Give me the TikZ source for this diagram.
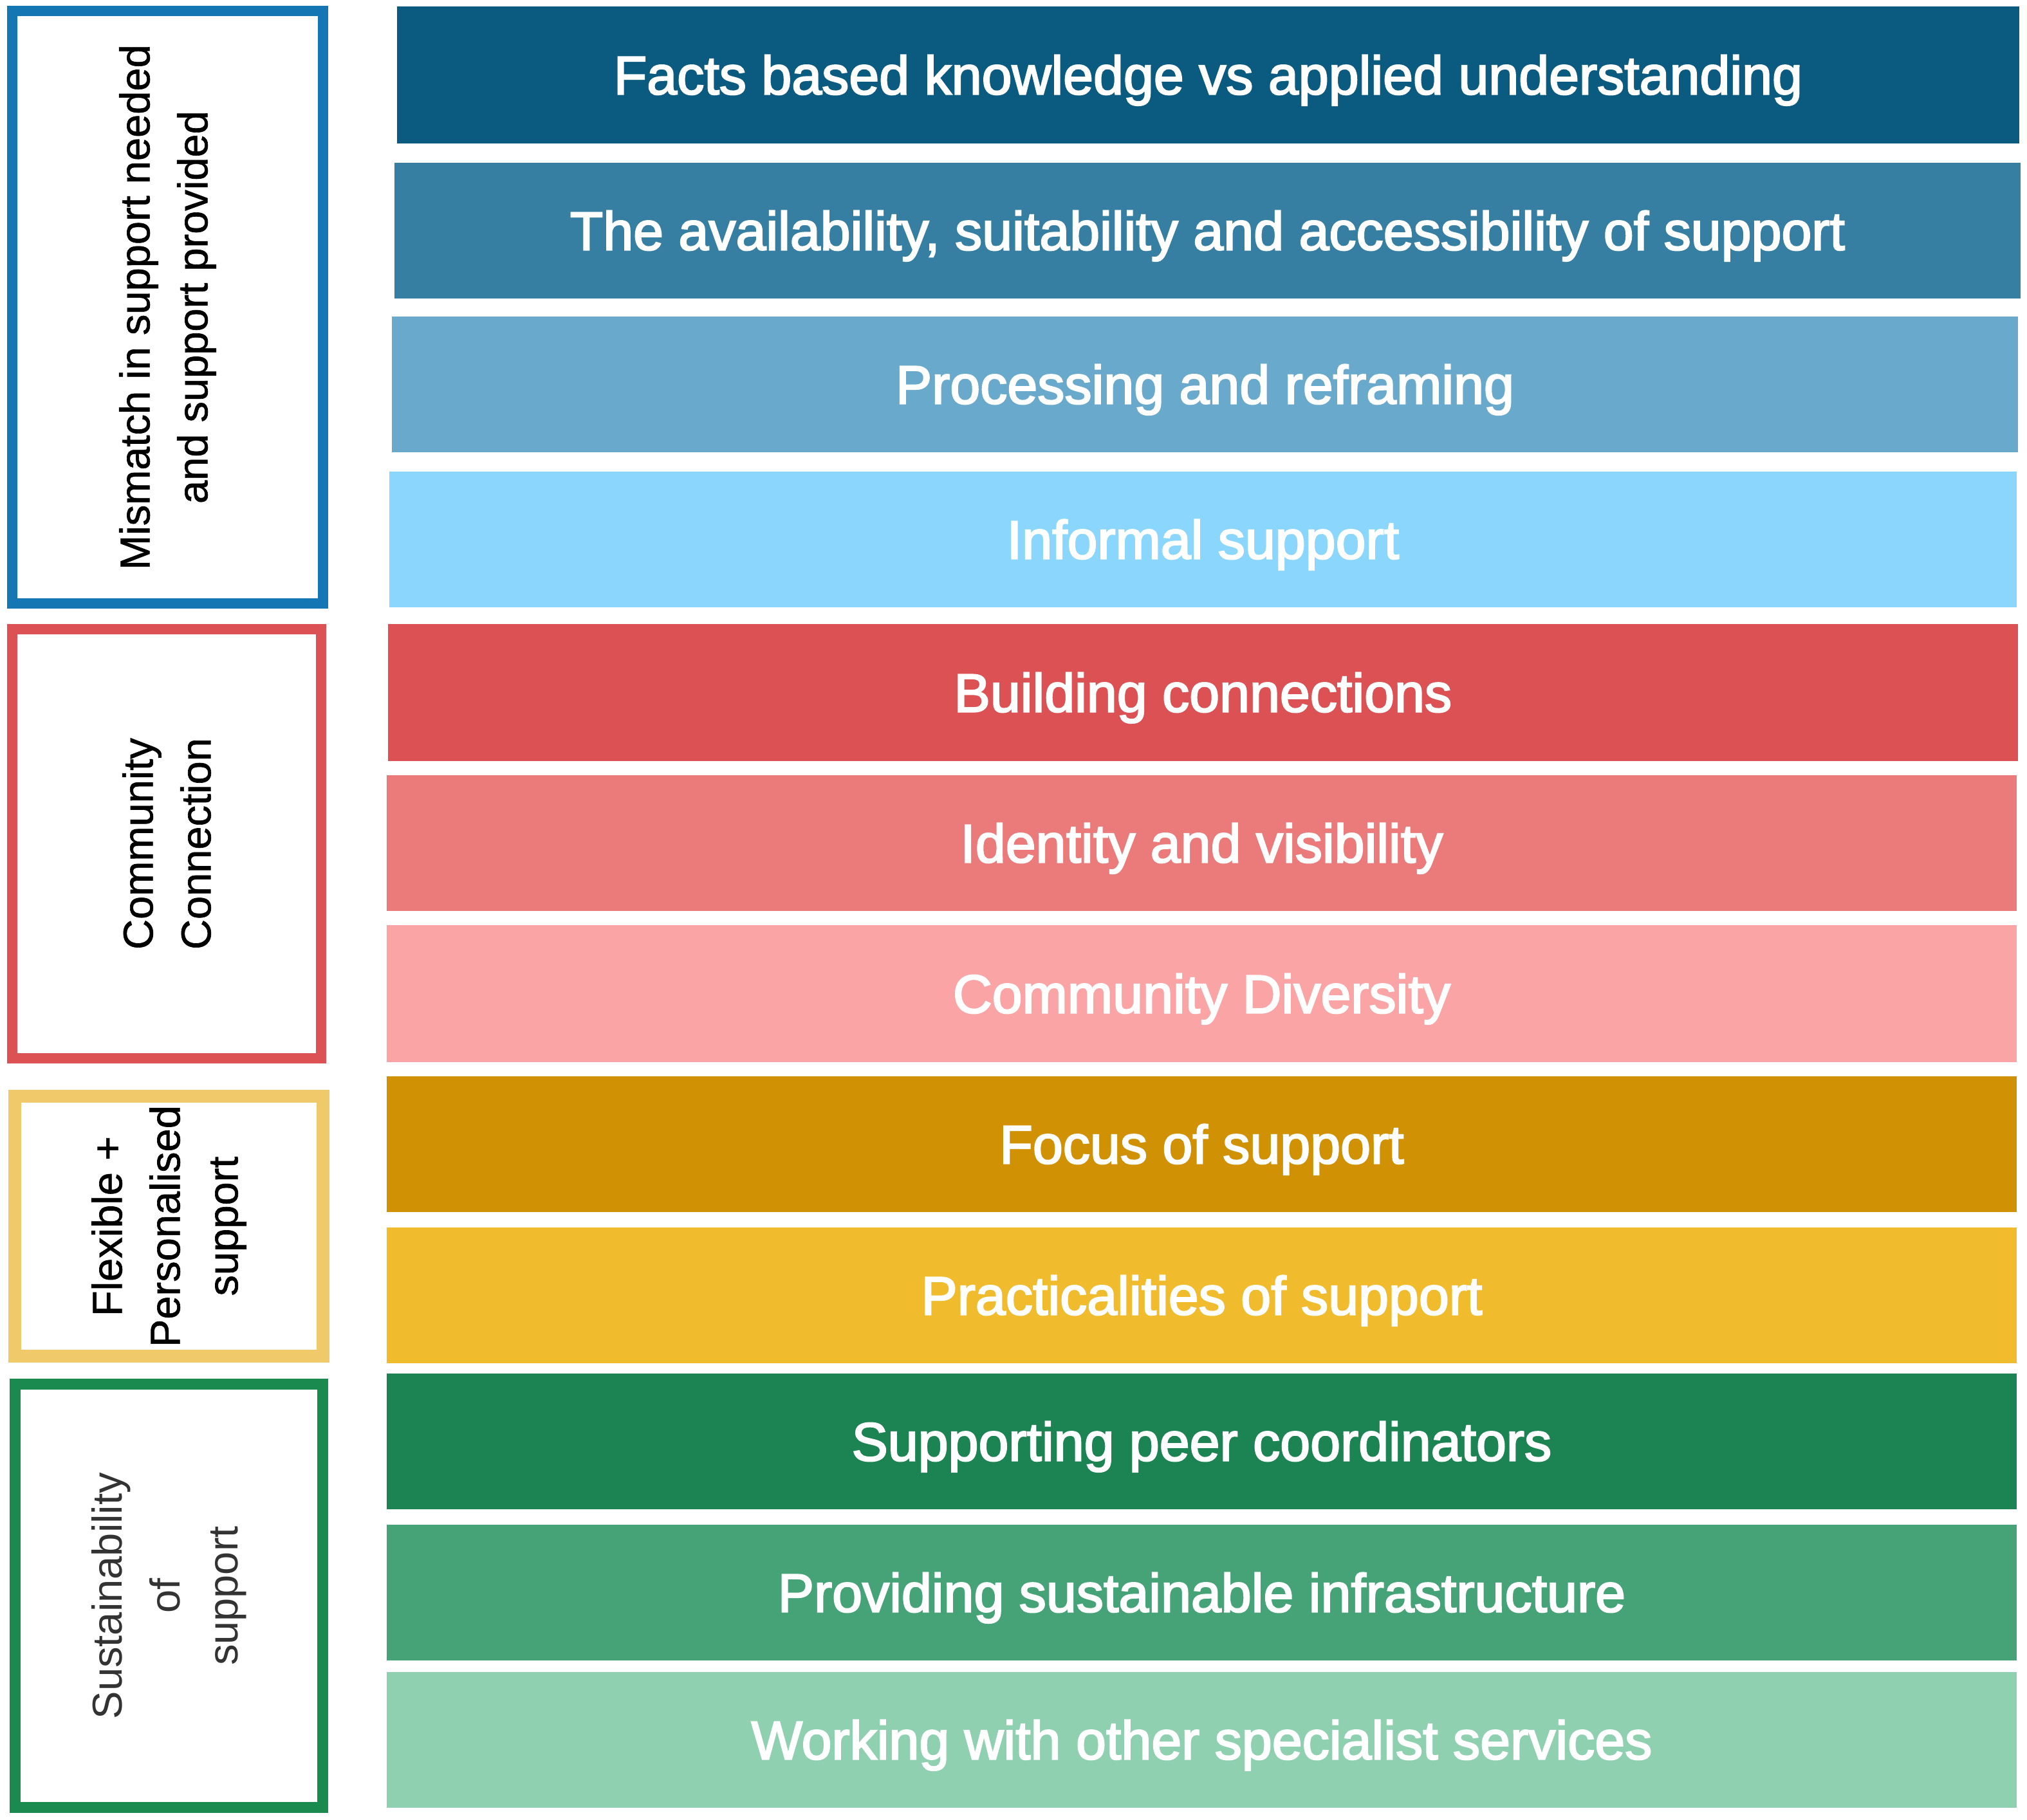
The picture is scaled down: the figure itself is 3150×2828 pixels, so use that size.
\documentclass[tikz,border=0pt]{standalone}
\usepackage{fontspec}
\setmainfont{Liberation Sans}
\newfontfamily\barfont[FakeBold=2.6]{Liberation Sans}
\newfontfamily\sidefont[FakeBold=1]{Liberation Sans}
\newfontfamily\sidefontlight{Liberation Sans}
\definecolor{cA}{HTML}{0B5A80}
\definecolor{cB}{HTML}{367FA2}
\definecolor{cC}{HTML}{69A9CC}
\definecolor{cD}{HTML}{8AD6FC}
\definecolor{cE}{HTML}{DB5154}
\definecolor{cF}{HTML}{EB7B7B}
\definecolor{cG}{HTML}{FAA4A6}
\definecolor{cH}{HTML}{D09204}
\definecolor{cI}{HTML}{F0BB2C}
\definecolor{cJ}{HTML}{1C8352}
\definecolor{cK}{HTML}{45A377}
\definecolor{cL}{HTML}{8FD0B1}
\definecolor{bBlue}{HTML}{1477B3}
\definecolor{bRed}{HTML}{DB5154}
\definecolor{bYel}{HTML}{EFC96A}
\definecolor{bGrn}{HTML}{1A8A4F}
\tikzset{
  themebar/.style={inner sep=0pt, outer sep=0pt, draw=none, text=white,
    font=\barfont\fontsize{24pt}{28pt}\selectfont, text height=6mm, text depth=0mm},
  sidebox/.style={rotate=90, inner sep=0pt, outer sep=0pt, fill=white, align=center,
    font=\sidefont\fontsize{18.5pt}{25.6pt}\selectfont, text=black}
}
% name, left, top, right, bottom, colour, text
\newcommand\themebarnode[7]{%
  \node[themebar, fill=#6, minimum width={(#4-#2)*0.1mm}, minimum height={(#5-#3)*0.1mm}]
    (#1) at ({(#2+#4)/2},{(#3+#5)/2}) {#7};}
\begin{document}
\begin{tikzpicture}[x=0.1mm,y=-0.1mm]
\useasboundingbox[fill=white] (0,0) rectangle (3150,2828);
\themebarnode{b1}{617}{10}{3138}{223}{cA}{Facts based knowledge vs applied understanding}
\themebarnode{b2}{613}{253}{3140}{464}{cB}{The availability, suitability and accessibility of support}
\themebarnode{b3}{609}{492}{3136}{703}{cC}{Processing and reframing}
\themebarnode{b4}{605}{733}{3134}{944}{cD}{Informal support}
\themebarnode{b5}{603}{970}{3136}{1183}{cE}{Building connections}
\themebarnode{b6}{601}{1205}{3134}{1416}{cF}{Identity and visibility}
\themebarnode{b7}{601}{1438}{3134}{1651}{cG}{Community Diversity}
\themebarnode{b8}{601}{1673}{3134}{1884}{cH}{Focus of support}
\themebarnode{b9}{601}{1908}{3134}{2119}{cI}{Practicalities of support}
\themebarnode{b10}{601}{2135}{3134}{2346}{cJ}{Supporting peer coordinators}
\themebarnode{b11}{601}{2370}{3134}{2581}{cK}{Providing sustainable infrastructure}
\themebarnode{b12}{601}{2599}{3134}{2810}{cL}{Working with other specialist services}

\node[sidebox, draw=bBlue, line width=1.6mm, minimum width=92.1mm, minimum height=48.3mm]
  (g1) at (260.5,477.5) {Mismatch in support needed\\and support provided};
\node[sidebox, draw=bRed, line width=1.6mm, minimum width=66.7mm, minimum height=48mm]
  (g2) at (259,1311.5) {Community\\Connection};
\node[sidebox, draw=bYel, line width=2mm, minimum width=40.4mm, minimum height=47.9mm]
  (g3) at (262.5,1906) {Flexible +\\Personalised\\support};
\node[sidebox, draw=bGrn, line width=1.7mm, minimum width=65.8mm, minimum height=47.8mm,
  font=\sidefontlight\fontsize{18.5pt}{25.6pt}\selectfont, text=black!80]
  (g4) at (262.5,2480.5) {Sustainability\\of\\support};
\end{tikzpicture}
\end{document}
